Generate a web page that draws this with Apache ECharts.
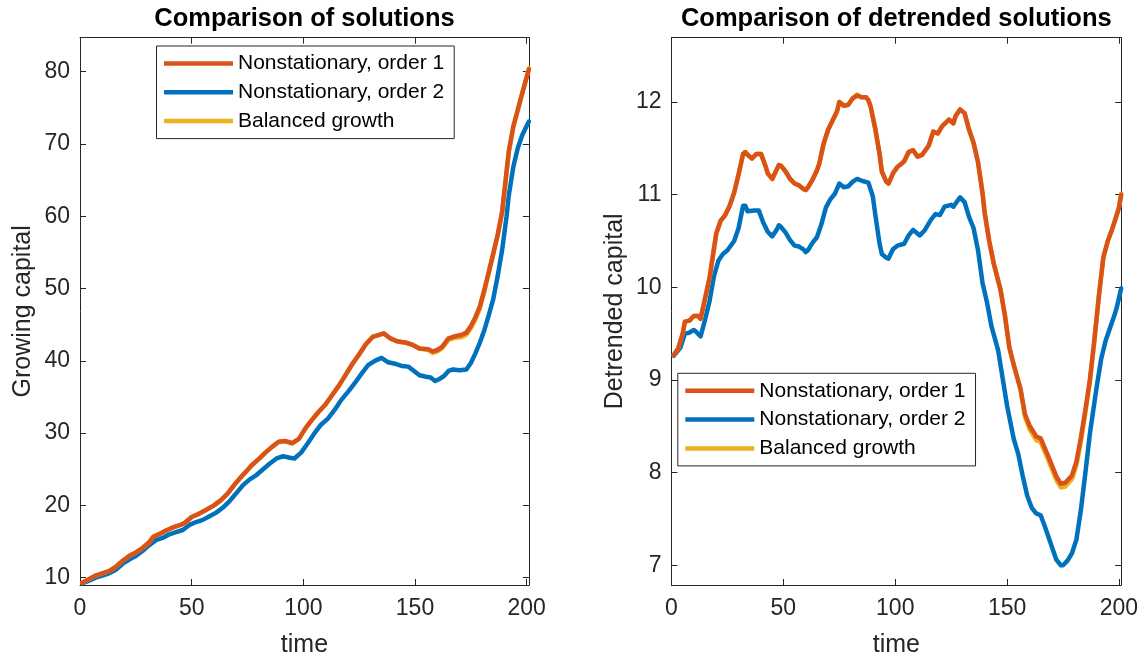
<!DOCTYPE html>
<html>
<head>
<meta charset="utf-8">
<title>Comparison of solutions</title>
<script src="https://cdn.jsdelivr.net/npm/echarts@6/dist/echarts.min.js"></script>
<style>
  html, body { margin: 0; padding: 0; background: #ffffff; }
  #chart { width: 1141px; height: 656px; }
</style>
</head>
<body>
<div id="chart"></div>
<script>
// ---- Growing capital (left panel) ----
const timeGrowthOrder1 = [1,4,7,10,13,16,19,22,25,28,31,33,36,39,42,45,47,50,53,56,60,63,66,69,72,75,77,80,83,86,89,92,95,98,101,104,107,110,113,116,119,122,125,128,131,134,136,139,142,146,149,152,156,158,160,162,165,168,171,173,175,177,179,181,183,185,187,189,191,192,194,196,198,200,201];
const growthOrder1 = [9.3,9.8,10.3,10.6,10.9,11.5,12.3,13.0,13.5,14.1,14.9,15.7,16.1,16.6,17.0,17.3,17.6,18.4,18.8,19.3,20.0,20.7,21.6,22.8,23.9,24.9,25.6,26.4,27.3,28.1,28.8,28.9,28.6,29.2,30.7,31.9,33.0,34.0,35.3,36.6,38.1,39.6,40.9,42.3,43.3,43.6,43.8,43.1,42.7,42.5,42.2,41.7,41.6,41.3,41.5,41.9,43.1,43.4,43.6,43.9,44.8,46.0,47.5,49.8,52.3,54.8,57.4,60.6,66.2,69.0,72.4,74.7,77.0,79.2,80.3];
const growthBalanced = [9.3,9.8,10.3,10.6,10.9,11.5,12.3,13.0,13.5,14.1,14.9,15.7,16.1,16.6,17.0,17.3,17.6,18.4,18.8,19.3,20.0,20.7,21.6,22.8,23.9,24.9,25.6,26.4,27.3,28.1,28.8,28.9,28.6,29.2,30.7,31.9,33.0,34.0,35.3,36.6,38.1,39.6,40.9,42.3,43.3,43.6,43.8,43.1,42.7,42.5,42.2,41.7,41.5,41.1,41.3,41.7,42.9,43.2,43.3,43.6,44.5,45.7,47.2,49.5,52.1,54.7,57.3,60.5,66.1,68.9,72.3,74.7,77.0,79.3,80.5];
const timeGrowthOrder2 = [1,4,7,10,13,16,19,22,25,28,31,34,37,40,43,46,49,52,55,58,61,64,67,70,73,76,79,82,85,88,91,94,96,99,102,105,108,111,114,117,120,123,126,129,132,135,138,141,144,147,150,152,155,157,159,161,163,165,167,170,173,175,177,179,181,183,185,187,189,191,192,194,196,198,200,201];
const growthOrder2 = [9.2,9.6,10.0,10.3,10.6,11.1,11.9,12.5,13.0,13.7,14.5,15.2,15.5,16.0,16.3,16.6,17.3,17.7,18.0,18.5,19.0,19.7,20.6,21.7,22.8,23.6,24.2,25.0,25.8,26.5,26.8,26.6,26.5,27.3,28.6,30.0,31.2,32.0,33.2,34.6,35.7,36.9,38.2,39.4,40.0,40.4,39.8,39.6,39.3,39.2,38.5,38.0,37.8,37.7,37.2,37.5,37.9,38.6,38.8,38.7,38.8,39.7,41.0,42.5,44.2,46.3,48.5,51.7,55.3,60.0,62.9,66.8,69.4,71.2,72.5,73.1];

// ---- Detrended capital (right panel) ----
const timeDetrOrder1 = [1,3,5,6,8,10,12,13,15,17,19,20,22,24,26,28,30,32,33,34,36,38,40,42,43,45,47,48,49,51,53,55,57,59,60,61,63,65,66,68,70,72,74,75,76,77,79,81,83,85,87,88,89,91,93,94,96,97,99,101,103,104,106,108,110,112,115,117,119,121,124,126,127,129,131,133,135,137,139,140,142,144,147,149,151,153,156,158,160,163,165,168,170,172,174,176,179,181,183,185,187,189,191,193,195,197,199,200,201];
const detrOrder1 = [9.27,9.34,9.50,9.63,9.64,9.69,9.69,9.66,9.88,10.10,10.42,10.58,10.72,10.78,10.88,11.02,11.22,11.44,11.46,11.43,11.39,11.44,11.44,11.31,11.23,11.17,11.27,11.32,11.31,11.25,11.17,11.12,11.10,11.06,11.05,11.08,11.16,11.26,11.33,11.55,11.70,11.80,11.90,12.00,11.98,11.96,11.97,12.04,12.07,12.05,12.05,12.02,11.95,11.72,11.44,11.25,11.14,11.12,11.23,11.30,11.34,11.36,11.46,11.48,11.41,11.43,11.53,11.68,11.66,11.74,11.81,11.77,11.85,11.92,11.88,11.70,11.56,11.35,11.02,10.80,10.50,10.26,9.98,9.70,9.35,9.16,8.90,8.63,8.51,8.39,8.37,8.20,8.08,7.96,7.88,7.89,7.97,8.12,8.38,8.68,9.00,9.43,9.90,10.32,10.50,10.63,10.78,10.86,11.00];
const detrBalanced = [9.27,9.34,9.50,9.63,9.64,9.69,9.69,9.66,9.88,10.10,10.42,10.58,10.72,10.78,10.88,11.02,11.22,11.44,11.46,11.43,11.39,11.44,11.44,11.31,11.23,11.17,11.27,11.32,11.31,11.25,11.17,11.12,11.10,11.06,11.05,11.08,11.16,11.26,11.33,11.55,11.70,11.80,11.90,12.00,11.98,11.96,11.97,12.04,12.08,12.05,12.05,12.02,11.95,11.72,11.44,11.25,11.14,11.12,11.23,11.30,11.34,11.36,11.46,11.48,11.41,11.43,11.53,11.68,11.66,11.74,11.81,11.77,11.85,11.92,11.88,11.70,11.56,11.35,11.02,10.80,10.50,10.26,9.98,9.70,9.35,9.16,8.90,8.60,8.47,8.35,8.33,8.16,8.04,7.92,7.84,7.85,7.93,8.08,8.34,8.65,8.98,9.42,9.90,10.32,10.50,10.63,10.78,10.86,11.01];
const timeDetrOrder2 = [1,4,6,8,10,11,13,15,17,19,21,23,25,28,30,32,33,34,37,39,41,43,45,47,48,49,51,53,55,57,59,60,61,63,65,67,69,71,73,75,76,77,79,81,83,85,88,90,91,93,94,96,97,99,101,104,106,108,111,113,116,118,120,122,125,126,128,129,131,133,135,137,139,141,143,146,148,150,153,155,157,159,161,163,165,167,170,172,174,175,177,179,181,183,185,187,190,192,194,196,198,199,201];
const detrOrder2 = [9.26,9.35,9.50,9.51,9.54,9.52,9.47,9.65,9.85,10.12,10.29,10.36,10.40,10.50,10.64,10.88,10.88,10.82,10.83,10.83,10.70,10.60,10.55,10.62,10.67,10.65,10.59,10.51,10.45,10.44,10.41,10.38,10.40,10.48,10.54,10.68,10.86,10.95,11.01,11.12,11.10,11.08,11.09,11.14,11.17,11.15,11.13,10.98,10.80,10.47,10.36,10.32,10.31,10.41,10.45,10.47,10.56,10.62,10.56,10.61,10.73,10.79,10.78,10.87,10.89,10.87,10.94,10.97,10.92,10.76,10.64,10.40,10.05,9.84,9.58,9.32,9.02,8.72,8.36,8.20,7.96,7.75,7.62,7.56,7.54,7.41,7.20,7.06,7.00,7.00,7.05,7.13,7.28,7.60,8.00,8.42,8.92,9.22,9.42,9.56,9.70,9.78,9.99];

// ---- Tick labels ----
const timeTicks = [0, 50, 100, 150, 200];
const growthTicks = [10, 20, 30, 40, 50, 60, 70, 80];
const detrTicks = [7, 8, 9, 10, 11, 12];

const seriesNames = ['Nonstationary, order 1', 'Nonstationary, order 2', 'Balanced growth'];
const colors = { order1: '#D95319', order2: '#0072BD', balanced: '#EDB120' };

const FONT = "'Liberation Sans', Arial, Helvetica, sans-serif";
const AXIS_COLOR = '#262626';

function pairs(xs, ys) {
  return xs.map((x, i) => [x, ys[i]]);
}

// One side of an axes box: ticks point inward, labels only on bottom/left.
function makeAxis(gridIndex, position, min, max, ticks, withLabels, name, nameGap, labelMargin) {
  return {
    type: 'value',
    gridIndex: gridIndex,
    position: position,
    min: min,
    max: max,
    name: name || '',
    nameLocation: 'middle',
    nameGap: nameGap || 0,
    nameTextStyle: { fontFamily: FONT, fontSize: 25, color: AXIS_COLOR },
    axisLine: { show: true, onZero: false, lineStyle: { color: AXIS_COLOR, width: 1 } },
    axisTick: { show: true, inside: true, length: 6, customValues: ticks,
                lineStyle: { color: AXIS_COLOR, width: 1 } },
    axisLabel: { show: withLabels, customValues: ticks, fontFamily: FONT, fontSize: 23,
                 color: AXIS_COLOR, margin: labelMargin || 10 },
    splitLine: { show: false },
    minorTick: { show: false }
  };
}

function lineSeries(name, data, color, xi, yi) {
  return {
    type: 'line',
    name: name,
    xAxisIndex: xi,
    yAxisIndex: yi,
    data: data,
    showSymbol: false,
    symbol: 'none',
    smooth: false,
    color: color,
    lineStyle: { color: color, width: 4.5, cap: 'round', join: 'round' },
    emphasis: { disabled: true },
    animation: false
  };
}

function makeLegend(left, top) {
  return {
    data: seriesNames,
    orient: 'vertical',
    left: left,
    top: top,
    icon: 'rect',
    itemWidth: 69,
    itemHeight: 4.5,
    itemGap: 2.8,
    padding: [4.5, 10, 4.5, 7.5],
    borderColor: AXIS_COLOR,
    borderWidth: 1,
    borderRadius: 0,
    backgroundColor: '#ffffff',
    selectedMode: false,
    itemStyle: { borderWidth: 0 },
    lineStyle: { width: 0 },
    textStyle: { fontFamily: FONT, fontSize: 21, color: '#000000', lineHeight: 26, padding: [0, 0, 0, 0] }
  };
}

const chart = echarts.init(document.getElementById('chart'), null, { renderer: 'canvas' });

const option = {
  backgroundColor: '#ffffff',
  animation: false,
  grid: [
    { left: 80, top: 37.7, width: 448.9, height: 547.3, outerBoundsMode: 'none', containLabel: false },
    { left: 671.5, top: 37.7, width: 449.7, height: 547.3, outerBoundsMode: 'none', containLabel: false }
  ],
  xAxis: [
    makeAxis(0, 'bottom', 0, 201, timeTicks, true, 'time', 48, 12),
    makeAxis(0, 'top', 0, 201, timeTicks, false),
    makeAxis(1, 'bottom', 0, 201, timeTicks, true, 'time', 48, 12),
    makeAxis(1, 'top', 0, 201, timeTicks, false)
  ],
  yAxis: [
    makeAxis(0, 'left', 8.99, 84.7, growthTicks, true, 'Growing capital', 44, 10),
    makeAxis(0, 'right', 8.99, 84.7, growthTicks, false),
    makeAxis(1, 'left', 6.787, 12.694, detrTicks, true, 'Detrended capital', 44, 10),
    makeAxis(1, 'right', 6.787, 12.694, detrTicks, false)
  ],
  legend: [ makeLegend(156.5, 46), makeLegend(677.8, 373.3) ],
  graphic: [
    { type: 'text', x: 304.5, y: 19, silent: true,
      style: { text: 'Comparison of solutions', fill: '#000000', align: 'center', verticalAlign: 'middle',
               font: 'bold 25.5px ' + FONT } },
    { type: 'text', x: 896.3, y: 19, silent: true,
      style: { text: 'Comparison of detrended solutions', fill: '#000000', align: 'center', verticalAlign: 'middle',
               font: 'bold 25.5px ' + FONT } }
  ],
  series: [
    // drawn back to front: blue, yellow, orange
    lineSeries(seriesNames[1], pairs(timeGrowthOrder2, growthOrder2), colors.order2, 0, 0),
    lineSeries(seriesNames[2], pairs(timeGrowthOrder1, growthBalanced), colors.balanced, 0, 0),
    lineSeries(seriesNames[0], pairs(timeGrowthOrder1, growthOrder1), colors.order1, 0, 0),
    lineSeries(seriesNames[1], pairs(timeDetrOrder2, detrOrder2), colors.order2, 2, 2),
    lineSeries(seriesNames[2], pairs(timeDetrOrder1, detrBalanced), colors.balanced, 2, 2),
    lineSeries(seriesNames[0], pairs(timeDetrOrder1, detrOrder1), colors.order1, 2, 2)
  ]
};

chart.setOption(option);
</script>
</body>
</html>
